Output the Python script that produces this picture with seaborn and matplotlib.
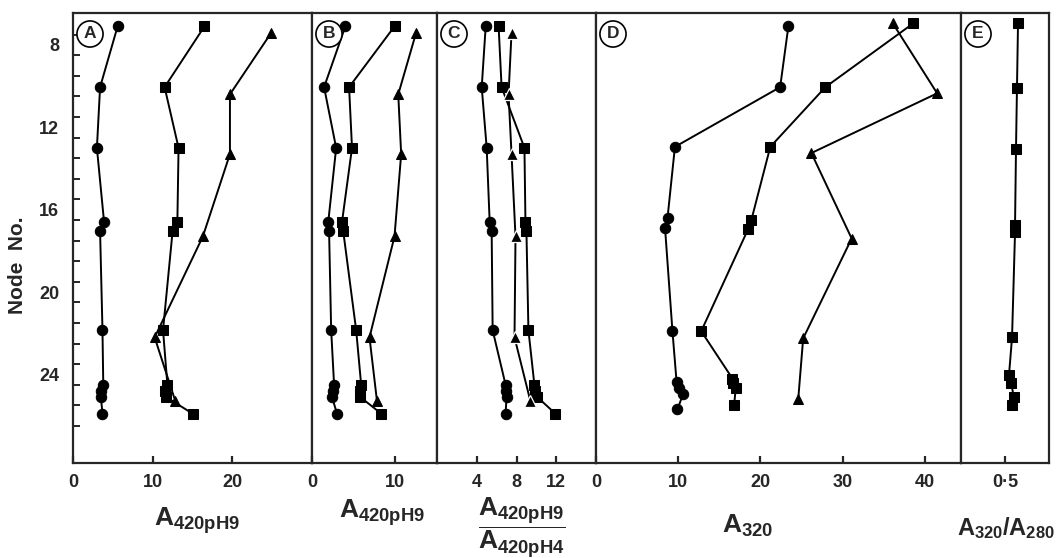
import numpy as np
import seaborn as sns
import matplotlib.pyplot as plt
from matplotlib.ticker import FixedLocator

sns.set_style("ticks")
plt.rcParams['font.family'] = ['Liberation Sans', 'DejaVu Sans']
plt.rcParams['font.weight'] = 'bold'
plt.rcParams['mathtext.fontset'] = 'custom'
for k in ('rm', 'it', 'bf', 'sf'):
    plt.rcParams['mathtext.' + k] = 'Liberation Sans:bold'
plt.rcParams['axes.linewidth'] = 1.6

# node positions (y)
nodes = [7.1, 10.05, 13.0, 16.6, 17.05, 21.85, 24.5, 24.8, 25.1, 25.9]
tri_nodes = [7.4, 10.4, 13.3, 17.3, 22.2, 25.3]
nodes_d_circ = [7.1, 10.05, 12.95, 16.4, 16.9, 21.9, 24.35, 24.65, 24.95, 25.7]
nodes_d_sq = [6.95, 10.05, 12.95, 16.5, 16.95, 21.9, 24.2, 24.4, 24.65, 25.5]
tri_nodes_d = [6.95, 10.35, 13.25, 17.4, 22.25, 25.2]
nodes_e = [6.95, 10.1, 13.05, 16.75, 17.1, 22.2, 24.05, 24.4, 25.1, 25.5]

# A: A420 pH9
a_circ = [5.6, 3.4, 3.0, 3.9, 3.4, 3.7, 3.8, 3.5, 3.5, 3.7]
a_sq = [16.5, 11.5, 13.25, 13.1, 12.5, 11.3, 11.85, 11.6, 11.7, 15.0]
a_tri = [24.9, 19.7, 19.7, 16.3, 10.25, 12.85]
# B: A420 pH9
b_circ = [4.0, 1.45, 2.9, 1.95, 2.05, 2.3, 2.65, 2.5, 2.4, 3.0]
b_sq = [9.9, 4.45, 4.8, 3.6, 3.75, 5.3, 5.9, 5.8, 5.8, 8.3]
b_tri = [12.5, 10.35, 10.7, 9.9, 6.9, 7.8]
# C: A420 pH9 / A420 pH4
c_circ = [4.9, 4.5, 5.0, 5.3, 5.5, 5.6, 6.9, 6.9, 7.0, 6.9]
c_sq = [6.2, 6.5, 8.8, 8.9, 9.0, 9.2, 9.8, 9.9, 10.1, 11.9]
c_tri = [7.5, 7.2, 7.5, 7.9, 7.8, 9.4]
# D: A320
d_circ = [23.4, 22.4, 9.6, 8.7, 8.4, 9.3, 9.8, 10.1, 10.6, 9.9]
d_sq = [38.6, 27.9, 21.2, 18.9, 18.5, 12.8, 16.6, 16.7, 17.0, 16.8]
d_tri = [36.1, 41.5, 26.2, 31.1, 25.2, 24.6]
# E: A320/A280
e_sq = [0.648, 0.636, 0.625, 0.614, 0.614, 0.58, 0.545, 0.57, 0.6, 0.58]

W, H = 1059, 558
edges = [73, 312, 437, 596, 961, 1049]
y_top, y_bot = 13, 463
xlims = [(0, 30), (0, 15), (0, 16), (0, 44.4), (0, 1)]
xticks = [[0, 10, 20], [0, 10], [4, 8, 12], [0, 10, 20, 30, 40], [0.5]]
letters = ['A', 'B', 'C', 'D', 'E']

fig = plt.figure(figsize=(W / 100, H / 100), dpi=100)
axes = []
for i in range(5):
    l, r = edges[i], edges[i + 1]
    ax = fig.add_axes([l / W, 1 - y_bot / H, (r - l) / W, (y_bot - y_top) / H])
    ax.set_xlim(*xlims[i])
    ax.set_ylim(28.3, 6.45)
    ax.set_xticks(xticks[i])
    ax.tick_params(axis='x', direction='in', length=5, width=1.6, pad=8, labelsize=13)
    if i == 0:
        ax.set_yticks([8, 12, 16, 20, 24])
        ax.yaxis.set_minor_locator(FixedLocator(np.arange(7.5, 27, 1)))
        ax.tick_params(axis='y', which='major', length=0, pad=10, labelsize=13)
        ax.tick_params(axis='y', which='minor', direction='in', length=5, width=1.4)
    else:
        ax.set_yticks([])
    for s in ax.spines.values():
        s.set_linewidth(1.6)
    cx = 17 / (r - l)
    ax.text(cx, 1 - 21 / (y_bot - y_top), letters[i], transform=ax.transAxes,
            ha='center', va='center', fontsize=12.5, fontweight='bold',
            bbox=dict(boxstyle='circle,pad=0.32', fc='white', ec='black', lw=1.2))
    axes.append(ax)

axes[4].set_xticklabels(['0\u00b75'])


def draw(ax, x, y, marker, ms, **kw):
    sns.lineplot(x=x, y=y, sort=False, estimator=None, color='black', lw=1.4,
                 marker=marker, ms=ms, mec='black', ax=ax, legend=False, **kw)


draw(axes[0], a_circ, nodes, 'o', 7.5)
draw(axes[0], a_sq, nodes, 's', 6.8)
draw(axes[0], a_tri, tri_nodes, '^', 6.5)
draw(axes[1], b_circ, nodes, 'o', 7.5)
draw(axes[1], b_sq, nodes, 's', 6.8)
draw(axes[1], b_tri, tri_nodes, '^', 6.5)
draw(axes[2], c_circ, nodes, 'o', 7.5)
draw(axes[2], c_sq, nodes, 's', 6.8)
sns.lineplot(x=c_tri, y=tri_nodes, sort=False, estimator=None, color='black', lw=1.4,
             marker='^', ms=8.5, mfc='black', mec='white', mew=0.9, ax=axes[2], legend=False)
draw(axes[3], d_circ, nodes_d_circ, 'o', 7.5)
draw(axes[3], d_sq, nodes_d_sq, 's', 6.8)
draw(axes[3], d_tri, tri_nodes_d, '^', 6.5)
draw(axes[4], e_sq, nodes_e, 's', 6.8)

for ax in axes:
    ax.set_xlabel('')
    ax.set_ylabel('')

fig.text(18 / W, 1 - 265 / H, 'Node  No.', rotation=90, ha='center', va='center',
         fontsize=15, fontweight='bold')
fig.text(197 / W, 1 - 505 / H, r'$A_{420pH9}$', ha='center', va='top', fontsize=19)
fig.text(382 / W, 1 - 497 / H, r'$A_{420pH9}$', ha='center', va='top', fontsize=19)
fig.text(522 / W, 1 - 495 / H, r'$\dfrac{A_{420pH9}}{A_{420pH4}}$', ha='center', va='top',
         fontsize=19)
fig.text(748 / W, 1 - 513 / H, r'$A_{320}$', ha='center', va='top', fontsize=19)
fig.text(1006 / W, 1 - 515 / H, r'$A_{320}/A_{280}$', ha='center', va='top', fontsize=17)

fig.savefig('out.png', dpi=100, facecolor='white')
